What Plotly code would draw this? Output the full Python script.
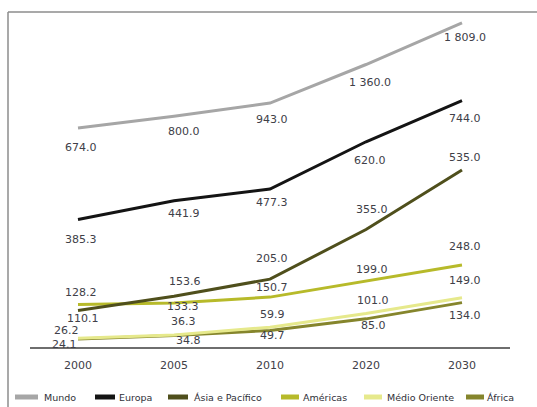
import plotly.graph_objects as go

# Years on the category axis
years = ["2000", "2005", "2010", "2020", "2030"]

# Series values (world total plotted on its own hidden axis)
mundo = [674.0, 800.0, 943.0, 1360.0, 1809.0]
europa = [385.3, 441.9, 477.3, 620.0, 744.0]
asia_pacifico = [110.1, 153.6, 205.0, 355.0, 535.0]
americas = [128.2, 133.3, 150.7, 199.0, 248.0]
medio_oriente = [26.2, 36.3, 59.9, 101.0, 149.0]
africa = [24.1, 34.8, 49.7, 85.0, 134.0]

series_names = ["Mundo", "Europa", "Ásia e Pacífico", "Américas", "Médio Oriente", "África"]
series_values = [mundo, europa, asia_pacifico, americas, medio_oriente, africa]
series_colors = ["#a6a6a6", "#141414", "#4f4f1c", "#b7ba2a", "#e6e98c", "#85852c"]
series_axis = ["y2", "y", "y", "y", "y", "y"]

# Label offsets in pixels (dx, dy) per point, dy positive = up
label_offsets = [
    [(3, -20), (10, -15), (2, -16), (4, -18), (3, -15)],
    [(3, -20), (10, -13), (2, -13), (4, -19), (3, -18)],
    [(5, -8), (11, 15), (2, 21), (6, 20), (3, 12)],
    [(3, 12), (9, -4), (2, 10), (6, 12), (3, 18)],
    [(-12, 8), (9, 13), (2, 13), (7, 13), (3, 17)],
    [(-14, -5), (14, -5), (2, -5), (7, -7), (3, -13)],
]

W, H = 537, 407
ML, MR, MT, MB = 30, 27, 14, 60
PW, PH = W - ML - MR, H - MT - MB


def px_to_paper(px, py):
    return (px - ML) / PW, (H - MB - py) / PH


def fmt(v):
    # thousands separated by a space, one decimal
    return f"{v:,.1f}".replace(",", " ")


fig = go.Figure()
# draw order: back to front
draw_order = [5, 4, 3, 2, 1, 0]
for i in draw_order:
    fig.add_trace(go.Scatter(
        x=years, y=series_values[i], name=series_names[i],
        mode="lines", line=dict(color=series_colors[i], width=3),
        yaxis=series_axis[i], showlegend=False, hoverinfo="skip",
    ))

annotations = []
for i, vals in enumerate(series_values):
    for j, v in enumerate(vals):
        dx, dy = label_offsets[i][j]
        annotations.append(dict(
            x=j, y=v, xref="x", yref=series_axis[i],
            text=fmt(v), showarrow=False,
            xshift=dx, yshift=dy,
            font=dict(family="DejaVu Sans", size=11, color="#404048"),
        ))

# Legend drawn along the bottom
legend_swatches = [(15, 38), (95, 115), (168, 188), (281, 299), (364, 382), (466, 484)]
legend_text_x = [42, 117, 192, 301, 385, 485]
legend_y = 397
shapes = []
for k, name in enumerate(series_names):
    x0, x1 = legend_swatches[k]
    px0, py = px_to_paper(x0, legend_y)
    px1, _ = px_to_paper(x1, legend_y)
    shapes.append(dict(type="line", xref="paper", yref="paper",
                       x0=px0, x1=px1, y0=py, y1=py,
                       line=dict(color=series_colors[k], width=5)))
    tx, ty = px_to_paper(legend_text_x[k], legend_y)
    annotations.append(dict(
        x=tx, y=ty, xref="paper", yref="paper", text=name,
        showarrow=False, xanchor="left", yanchor="middle",
        font=dict(family="DejaVu Sans", size=9.5, color="#303038"),
    ))

# Outer frame (top and left edges)
bx0, by0 = px_to_paper(8, 12)
bx1, _ = px_to_paper(W + 2, 12)
_, by1 = px_to_paper(8, H + 2)
shapes.append(dict(type="line", xref="paper", yref="paper",
                   x0=bx0, x1=bx1, y0=by0, y1=by0,
                   line=dict(color="#8c8c8c", width=1.5)))
shapes.append(dict(type="line", xref="paper", yref="paper",
                   x0=bx0, x1=bx0, y0=by0, y1=by1,
                   line=dict(color="#8c8c8c", width=1.5)))

fig.update_layout(
    width=W, height=H,
    margin=dict(l=ML, r=MR, t=MT, b=MB),
    paper_bgcolor="white", plot_bgcolor="white",
    showlegend=False,
    xaxis=dict(
        type="category", range=[-0.5, 4.5],
        showline=True, linecolor="#6e6e6e", linewidth=2,
        showgrid=False, zeroline=False, ticks="",
        ticklabelstandoff=7,
        tickfont=dict(family="DejaVu Sans", size=11, color="#404048"),
    ),
    yaxis=dict(range=[0, 1006], visible=False, showgrid=False, zeroline=False),
    yaxis2=dict(range=[-1694, 1906], visible=False, overlaying="y",
                showgrid=False, zeroline=False),
    annotations=annotations,
    shapes=shapes,
)

fig.write_html("out.html")
